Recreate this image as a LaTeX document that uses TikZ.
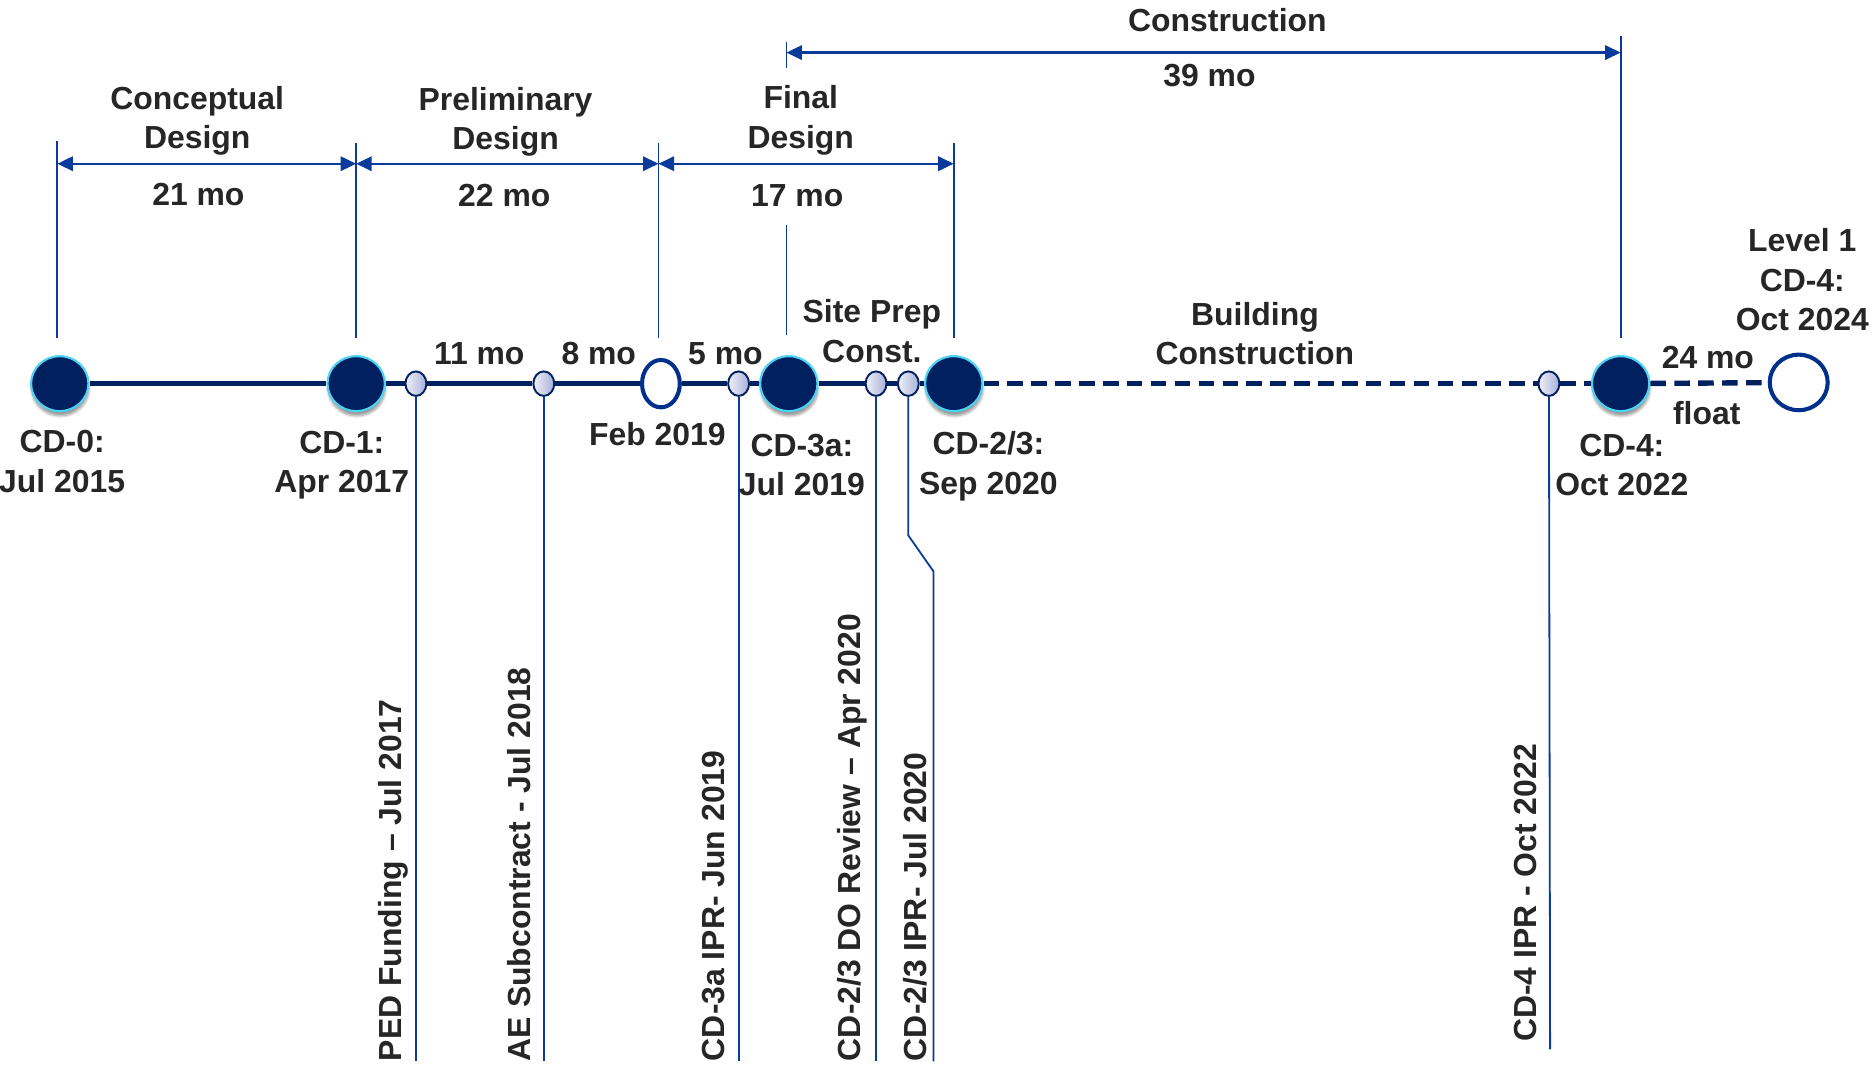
\documentclass[tikz,border=0pt]{standalone}
\usepackage{fontspec}
\setmainfont{Liberation Sans}
\usetikzlibrary{arrows.meta,shapes.geometric,shadows.blur}
\definecolor{navy}{HTML}{002060}
\definecolor{rimcyan}{HTML}{4DD2F2}
\definecolor{thinblue}{HTML}{0A3A9A}
\definecolor{txt}{HTML}{262626}
\definecolor{lavL}{HTML}{EEF0F8}
\definecolor{lavR}{HTML}{A9B0DA}
\definecolor{ringblue}{HTML}{00308C}
\begin{document}
\begin{tikzpicture}[x=1pt,y=-1pt,
  lbl/.style={font=\fontsize{26.7}{33}\selectfont\bfseries, text=txt, inner sep=0pt, align=center},
  rlbl/.style={lbl, rotate=90, anchor=west},
  bigms/.style={ellipse, fill=navy, draw=rimcyan, line width=1.8pt, minimum width=48pt, minimum height=46pt, inner sep=0pt,
    blur shadow={shadow xshift=0.5pt, shadow yshift=-4pt, shadow opacity=40, shadow blur steps=6}},
  smallms/.style={ellipse, draw=navy, line width=1.6pt, left color=lavL, right color=lavR, minimum width=17.5pt, minimum height=20.5pt, inner sep=0pt},
  openms/.style={ellipse, draw=ringblue, line width=3.4pt, fill=white, inner sep=0pt},
  tline/.style={navy, line width=4.5pt},
  dline/.style={navy, line width=4.5pt, dash pattern=on 13pt off 7pt},
  vline/.style={thinblue, line width=1.5pt},
  dimarrow/.style={thinblue, line width=2pt, {Triangle[length=13pt,width=12pt]}-{Triangle[length=13pt,width=12pt]}}
]
\useasboundingbox (0,0) rectangle (1568,893);

% milestones
\node[bigms] (cd0) at (50,321) {};
\node[bigms] (cd1) at (298,321) {};
\node[smallms] (ped) at (348,321) {};
\node[smallms] (ae) at (455,321) {};
\node[openms, minimum width=31.6pt, minimum height=39.6pt] (feb) at (553,321) {};
\node[smallms] (ipr3a) at (618,321) {};
\node[bigms] (cd3a) at (660,321) {};
\node[smallms] (dor) at (733,321) {};
\node[smallms] (ipr23) at (760,321) {};
\node[bigms] (cd23) at (798,321) {};
\node[smallms] (ipr4) at (1296,321) {};
\node[bigms] (cd4) at (1356,321) {};
\node[openms, minimum width=48.5pt, minimum height=46.5pt] (lvl) at (1505,320) {};

% timeline
\draw[tline] (cd0) -- (cd1);
\draw[tline] (cd1) -- (ped);
\draw[tline] (ped) -- (ae);
\draw[tline] (ae) -- (feb);
\draw[tline] (feb) -- (ipr3a);
\draw[tline] (ipr3a) -- (cd3a);
\draw[tline] (cd3a) -- (dor);
\draw[tline] (dor) -- (ipr23);
\draw[tline] (ipr23) -- (cd23);
\draw[dline] (cd23) -- (ipr4);
\draw[dline] (ipr4) -- (cd4);
\draw[dline] (cd4) -- (lvl);

% drop lines to the rotated labels
\coordinate (pedb) at (348,888);
\coordinate (aeb) at (455,888);
\coordinate (ipr3ab) at (618,888);
\coordinate (dorb) at (733,888);
\coordinate (k1) at (760,448);
\coordinate (k2) at (781,478);
\coordinate (ipr23b) at (781,888);
\coordinate (ipr4b) at (1297,878);
\draw[vline] (ped) -- (pedb);
\draw[vline] (ae) -- (aeb);
\draw[vline] (ipr3a) -- (ipr3ab);
\draw[vline] (dor) -- (dorb);
\draw[vline] (ipr23) -- (k1) -- (k2) -- (ipr23b);
\draw[vline] (ipr4) -- (ipr4b);

% phase boundaries
\coordinate (v0t) at (48,118);   \coordinate (v0b) at (48,283);
\coordinate (v1t) at (298,120);  \coordinate (v1b) at (298,283);
\coordinate (v2t) at (551,120);  \coordinate (v2b) at (551,283);
\coordinate (v3t) at (798,120);  \coordinate (v3b) at (798,283);
\coordinate (v4t) at (658,188);  \coordinate (v4b) at (658,280);
\coordinate (v5t) at (658,35);   \coordinate (v5b) at (658,57);
\coordinate (v6t) at (1356,30);  \coordinate (v6b) at (1356,283);
\draw[vline] (v0t) -- (v0b);
\draw[vline] (v1t) -- (v1b);
\draw[vline] (v2t) -- (v2b);
\draw[vline] (v3t) -- (v3b);
\draw[vline] (v4t) -- (v4b);
\draw[vline] (v5t) -- (v5b);
\draw[vline] (v6t) -- (v6b);

% dimension arrows
\coordinate (d0) at (48,137);
\coordinate (d1) at (298,137);
\coordinate (d2) at (551,137);
\coordinate (d3) at (798,137);
\coordinate (c0) at (658,44);
\coordinate (c1) at (1356,44);
\draw[dimarrow] (d0) -- (d1);
\draw[dimarrow] (d1) -- (d2);
\draw[dimarrow] (d2) -- (d3);
\draw[dimarrow] (c0) -- (c1);

% phase labels
\node[lbl] (tcd) at (165,101) {Conceptual\\Design};
\node[lbl] (t21) at (166,163) {21 mo};
\node[lbl] (tpd) at (423,102) {Preliminary\\Design};
\node[lbl] (t22) at (422,164) {22 mo};
\node[lbl] (tfd) at (670,100.5) {Final\\Design};
\node[lbl] (t17) at (667,164) {17 mo};
\node[lbl] (tcon) at (1027,17) {Construction};
\node[lbl] (t39) at (1012,63) {39 mo};

% interval labels
\node[lbl] (t11) at (401,296) {11 mo};
\node[lbl] (t8) at (501,296) {8 mo};
\node[lbl] (t5) at (607,296) {5 mo};
\node[lbl] (tsp) at (729.5,277) {Site Prep\\Const.};
\node[lbl] (tbc) at (1050,279) {Building\\Construction};
\node[lbl] (t24) at (1429,299) {24 mo};
\node[lbl] (tfl) at (1428,346) {float};
\node[lbl] (tlv) at (1508,234) {Level 1\\CD-4:\\Oct 2024};

% milestone labels
\node[lbl] (lcd0) at (52,386) {CD-0:\\Jul 2015};
\node[lbl] (lcd1) at (286,389) {CD-1:\\Apr 2017};
\node[lbl] (lfeb) at (550,363) {Feb 2019};
\node[lbl] (lcd3a) at (671,389) {CD-3a:\\Jul 2019};
\node[lbl] (lcd23) at (827,390) {CD-2/3:\\Sep 2020};
\node[lbl] (lcd4) at (1357,389) {CD-4:\\Oct 2022};

% rotated labels
\node[rlbl] (rped) at (329,888) {PED Funding – Jul 2017};
\node[rlbl] (rae) at (434,888) {AE Subcontract - Jul 2018};
\node[rlbl] (r3a) at (597,888) {CD-3a IPR- Jun 2019};
\node[rlbl] (rdo) at (713,888) {CD-2/3 DO Review – Apr 2020};
\node[rlbl] (r23) at (766,888) {CD-2/3 IPR- Jul 2020};
\node[rlbl] (r4) at (1276,872) {CD-4 IPR - Oct 2022};
\end{tikzpicture}
\end{document}
